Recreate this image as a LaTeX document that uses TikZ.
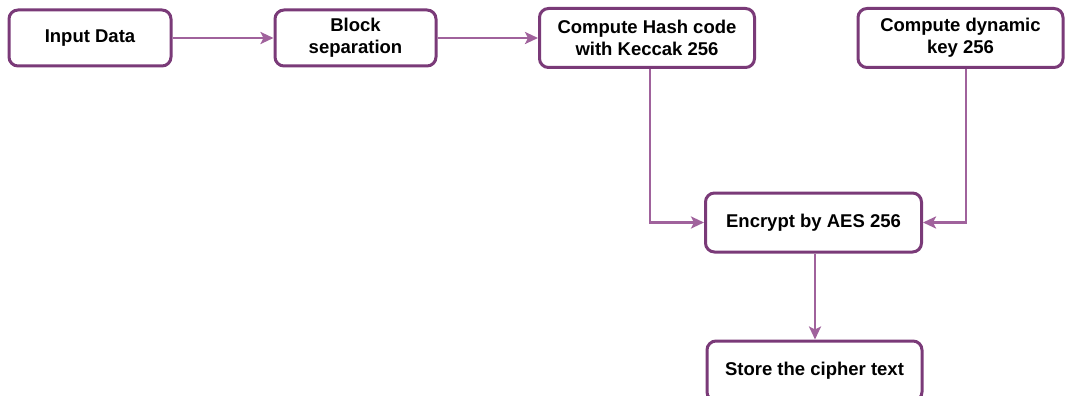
\documentclass[tikz,border=0pt]{standalone}
\usepackage{fontspec}
\setmainfont{Liberation Sans}
\usetikzlibrary{arrows.meta}
\definecolor{boxc}{HTML}{7A3A78}
\definecolor{arrc}{HTML}{A0629C}
\begin{document}
\begin{tikzpicture}[x=1pt,y=-1pt,
  blk/.style={draw=boxc,line width=3pt,rounded corners=9pt,fill=white,
    font=\fontsize{18.5}{22}\selectfont\bfseries,align=center,inner sep=0pt},
  conn/.style={draw=arrc,line width=2.6pt,-{Stealth[length=13pt,width=12pt,inset=3pt]}}]
\useasboundingbox (0,0) rectangle (1069,396);
\node[blk,minimum width=162pt,minimum height=56pt] (in) at (90,38) {Input Data};
\node[blk,minimum width=161pt,minimum height=56pt] (bs) at (355.5,38) {Block\\separation};
\node[blk,minimum width=215pt,minimum height=59pt] (hc) at (647,38) {Compute Hash code\\with Keccak 256};
\node[blk,minimum width=205pt,minimum height=59pt] (dk) at (960.5,38) {Compute dynamic\\key 256};
\node[blk,minimum width=216pt,minimum height=59pt] (en) at (813.5,222.5) {Encrypt by AES 256};
\node[blk,minimum width=215pt,minimum height=60pt] (st) at (814.5,371) {Store the cipher text};
\draw[conn] (in) -- (bs);
\draw[conn] (bs) -- (hc);
\draw[conn] (hc.south -| 650,0) |- (en.west);
\draw[conn] (dk.south -| 966,0) |- (en.east);
\draw[conn] (en.south -| 815,0) -- (st.north -| 815,0);
\end{tikzpicture}
\end{document}
